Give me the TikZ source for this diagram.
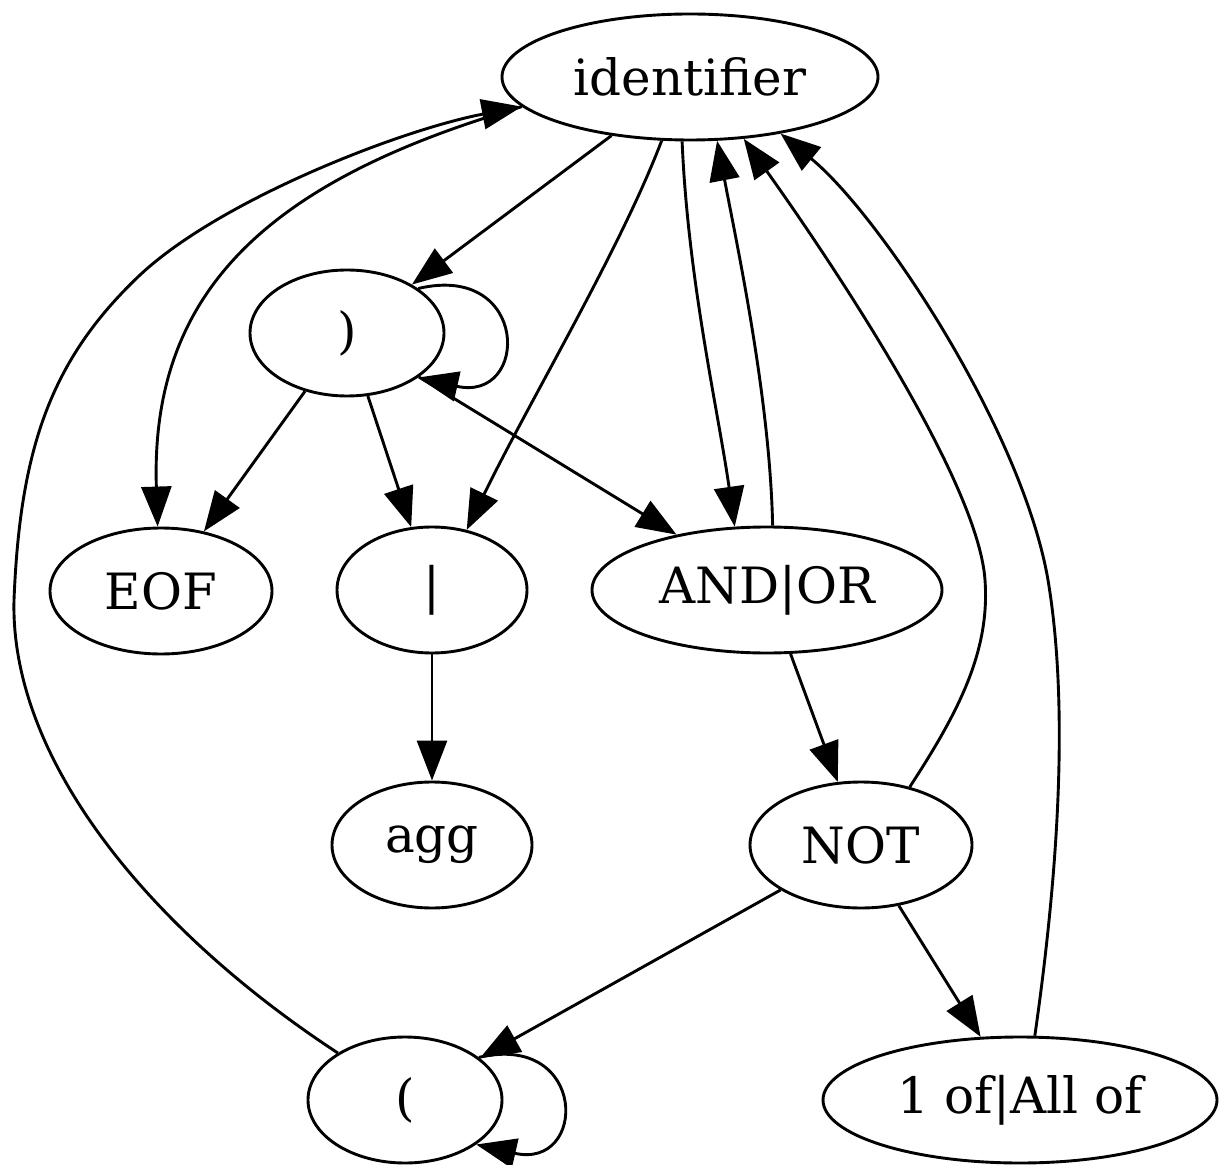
\documentclass[tikz,border=0pt]{standalone}
\usepackage{fontspec}
\setmainfont{DejaVu Serif}
\usepackage{xcolor}
\usepackage{tikz}
\usetikzlibrary{arrows.meta,shapes.geometric}
\definecolor{ink}{HTML}{000000}
\tikzset{
  tok/.style={draw=ink, ellipse, line width=1.45pt, inner sep=0pt,
    minimum height=63pt, font=\fontsize{25}{30}\selectfont},
  edge/.style={draw=ink, line width=1.45pt, -{Triangle[length=20pt,width=15pt]}},
}

\begin{document}
\begin{tikzpicture}[x=0.5pt,y=-0.5pt] % pixel grid, y down
  \useasboundingbox (0,0) rectangle (1220,1165);

  \node[tok, minimum width=188pt] (ident) at (690,77) {identifier};
  \node[tok, minimum width=97pt]  (rpar)  at (347,333) {)};
  \node[tok, minimum width=111pt] (eof)   at (161,591) {EOF};
  \node[tok, minimum width=95pt]  (pipe)  at (432,590) {|};
  \node[tok, minimum width=175pt] (andor) at (767,590) {AND|OR};
  \node[tok, minimum width=100pt] (agg)   at (432,845) {agg};
  \node[tok, minimum width=111pt] (notop) at (861,845) {NOT};
  \node[tok, minimum width=97pt]  (lpar)  at (405,1100) {(};
  \node[tok, minimum width=197pt] (oneof) at (1020,1100) {1 of|All of};

  % out of identifier
  \draw[edge] (ident) -- (rpar);
  \draw[edge] (ident.190) .. controls (270,180) and (150,290) .. (eof.93);
  \draw[edge] (ident.246) .. controls (620,250) and (530,400) .. (pipe.60);
  \draw[edge] (ident.263) .. controls (688,280) and (718,410) .. (andor.117);

  % back into identifier
  \draw[edge] (andor.85) .. controls (770,400) and (738,250) .. (ident.293);
  \draw[edge] (notop.50) .. controls (960,710) and (990,650) .. (985,580)
    .. controls (978,480) and (830,260) .. (ident.311);
  \draw[edge] (oneof.77) .. controls (1060,860) and (1068,700) .. (1048,580)
    .. controls (1022,430) and (880,215) .. (ident.328);
  \draw[edge] (lpar.145) .. controls (150,930) and (10,760) .. (14,600)
    .. controls (20,450) and (50,360) .. (140,275)
    .. controls (220,200) and (400,130) .. (ident.190);

  % out of )
  \draw[edge] (rpar.32) .. controls (530,262) and (530,403) .. (rpar.-32);
  \draw[edge] (rpar) -- (eof);
  \draw[edge] (rpar) -- (pipe);
  \draw[edge] (rpar) -- (andor);

  \draw[edge] (pipe) -- (agg);
  \draw[edge] (andor) -- (notop);
  \draw[edge] (notop) -- (lpar);
  \draw[edge] (notop) -- (oneof);
  \draw[edge] (lpar.30) .. controls (588,1032) and (588,1170) .. (lpar.-32);
\end{tikzpicture}
\end{document}
